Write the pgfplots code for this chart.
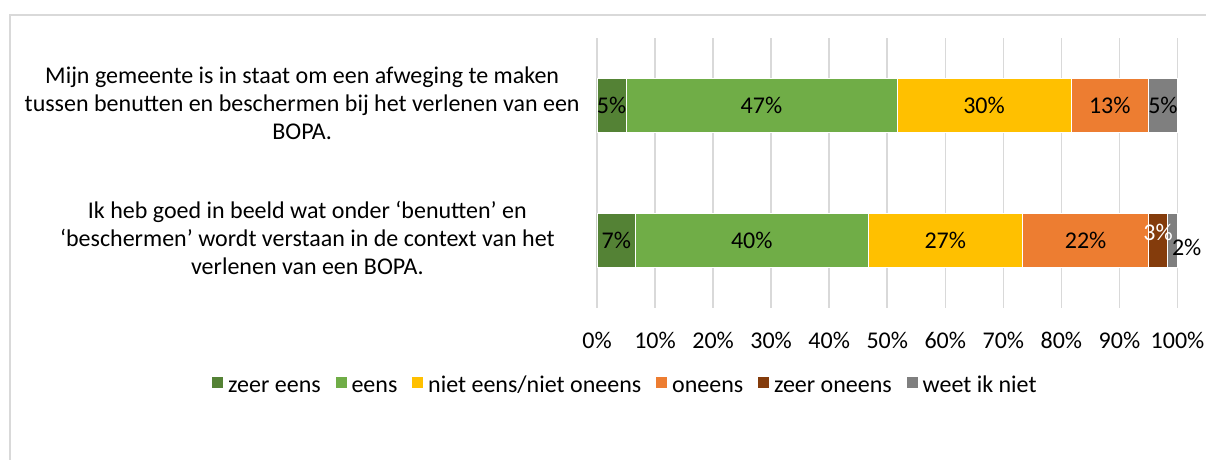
\documentclass[border=0pt]{standalone}
\usepackage{fontspec}
\setmainfont{Carlito}
\usepackage{pgfplots}
\pgfplotsset{compat=1.18}
\definecolor{cZeerEens}{HTML}{548235}
\definecolor{cEens}{HTML}{70AD47}
\definecolor{cNeutraal}{HTML}{FFC000}
\definecolor{cOneens}{HTML}{ED7D31}
\definecolor{cZeerOneens}{HTML}{843C0C}
\definecolor{cWeetNiet}{HTML}{7F7F7F}
\definecolor{cGrid}{HTML}{D9D9D9}

\begin{document}
\begin{tikzpicture}[font=\fontsize{12}{14}\selectfont]
\useasboundingbox (0,0) rectangle (603pt,230pt);
% chart frame (only left and top edge visible)
\draw[cGrid, line width=1pt] (5pt,0pt) -- (5pt,222.5pt) -- (603pt,222.5pt);
\begin{axis}[
  at={(298.5pt,76pt)}, anchor=south west,
  scale only axis, width=290.25pt, height=135pt,
  xbar stacked, bar width=27pt,
  xmin=0, xmax=100, ymin=-0.5, ymax=1.5,
  clip=false,
  axis line style={draw=none},
  tick style={draw=none},
  xmajorgrids,
  major grid style={cGrid, line width=0.75pt},
  xtick={0,10,...,100},
  xticklabels={0\%,10\%,20\%,30\%,40\%,50\%,60\%,70\%,80\%,90\%,100\%},
  xticklabel style={anchor=center, yshift=-16pt},
  ytick={0,1},
  yticklabels={
    {\begin{tabular}{@{}c@{}}Ik heb goed in beeld wat onder ‘benutten’ en\\‘beschermen’ wordt verstaan in de context van het\\verlenen van een BOPA.\end{tabular}\hspace*{12.5pt}},
    {\begin{tabular}{@{}c@{}}Mijn gemeente is in staat om een afweging te maken\\tussen benutten en beschermen bij het verlenen van een\\BOPA.\end{tabular}}
  },
  yticklabel style={anchor=east, inner sep=0pt, xshift=-8.5pt},
  point meta=explicit symbolic,
  nodes near coords,
  nodes near coords style={anchor=center, text=black, inner sep=0pt},
  legend columns=6,
  legend style={at={(0.05,-0.292)}, anchor=center, draw=none, fill=none,
    nodes={text height=9pt, text depth=3pt},
    /tikz/every even column/.append style={column sep=5pt}},
  legend image code/.code={\fill[#1] (0pt,-1pt) rectangle (6pt,5pt);},
]
\addplot[fill=cZeerEens, draw=white, line width=0.4pt] coordinates {
  (6.667,0) [7\%]  (5,1) [5\%] };
\addlegendentry{zeer eens}
\addplot[fill=cEens, draw=white, line width=0.4pt] coordinates {
  (40,0) [40\%]  (46.667,1) [47\%] };
\addlegendentry{eens}
\addplot[fill=cNeutraal, draw=white, line width=0.4pt] coordinates {
  (26.667,0) [27\%]  (30,1) [30\%] };
\addlegendentry{niet eens/niet oneens}
\addplot[fill=cOneens, draw=white, line width=0.4pt] coordinates {
  (21.667,0) [22\%]  (13.333,1) [13\%] };
\addlegendentry{oneens}
\addplot[fill=cZeerOneens, draw=white, line width=0.4pt,
  every node near coord/.append style={text=white, yshift=4pt}] coordinates {
  (3.333,0) [3\%]  (0,1) [{}] };
\addlegendentry{zeer oneens}
\addplot[fill=cWeetNiet, draw=white, line width=0.4pt,
  visualization depends on={rawy \as \rowy},
  every node near coord/.append style={xshift={(1-\rowy)*7pt}, yshift={-(1-\rowy)*3.5pt}}] coordinates {
  (1.667,0) [2\%]  (5,1) [5\%] };
\addlegendentry{weet ik niet}
\end{axis}
\end{tikzpicture}
\end{document}
